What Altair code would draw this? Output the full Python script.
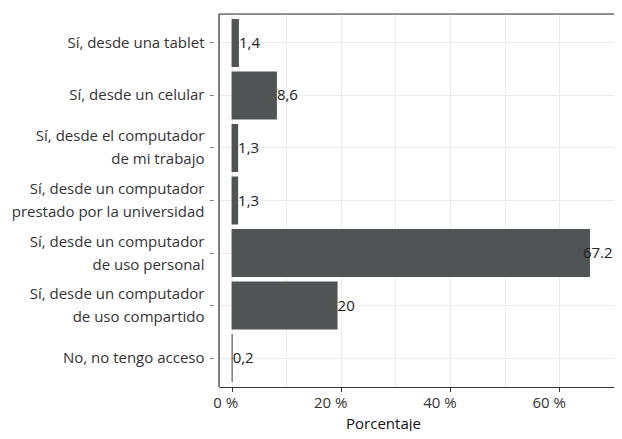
import altair as alt
import pandas as pd

# ---- data ----
categories = [
    "Sí, desde una tablet",
    "Sí, desde un celular",
    "Sí, desde el computador\nde mi trabajo",
    "Sí, desde un computador\nprestado por la universidad",
    "Sí, desde un computador\nde uso personal",
    "Sí, desde un computador\nde uso compartido",
    "No, no tengo acceso",
]
bar_values = [1.35, 8.3, 1.2, 1.2, 65.6, 19.4, 0.2]
label_texts = ["1,4", "8,6", "1,3", "1,3", "67.2", "20", "0,2"]
major_ticks = [0, 20, 40, 60]
minor_ticks = [10, 30, 50, 70]
x_domain = [-2.3, 70.0]

FONT = "Open Sans"
FS = 15
W, H = 395, 373

df = pd.DataFrame({"cat": categories, "value": bar_values, "label": label_texts})

xscale = alt.Scale(domain=x_domain, nice=False)
yscale = alt.Scale(paddingInner=0.086, paddingOuter=0.095)

x_axis = alt.Axis(
    values=sorted(major_ticks + minor_ticks),
    labelExpr="datum.value % 20 === 0 ? datum.value + ' %' : ''",
    tickOpacity=alt.ExprRef(expr="datum.value % 20 === 0 ? 1 : 0"),
    grid=True, gridColor="#ebebeb", gridWidth=1,
    tickSize=4.5, tickColor="#333333",
    domainColor="#333333", domainWidth=1.2,
    labelAlign="right", labelOffset=6, labelPadding=4,
    labelFont=FONT, labelFontSize=FS, labelColor="#333333",
    title="Porcentaje", titleFont=FONT, titleFontSize=FS, titleFontWeight="normal",
    titleColor="#111111", titleX=164, titleY=41, titleAlign="center",
    titleBaseline="alphabetic", titleAnchor="start",
)

y_axis = alt.Axis(
    title=None,
    labelExpr="split(datum.label, '\\n')",
    labelOffset=alt.ExprRef(expr="indexof(datum.label, '\\n') >= 0 ? -11.5 : 0"),
    labelFont=FONT, labelFontSize=FS, labelColor="#333333",
    labelLineHeight=23, labelPadding=5.5, labelLimit=400, labelAlign="right",
    tickSize=3.5, tickColor="#777777",
    domain=False, offset=6,
    grid=True, gridColor="#ebebeb", gridWidth=1, bandPosition=0.5,
)

base = alt.Chart(df)
yenc = alt.Y("cat:N", sort=categories, scale=yscale, axis=y_axis)

bars = base.mark_bar(color="#505455").encode(
    x=alt.X("value:Q", scale=xscale, axis=x_axis),
    y=yenc,
)

small_labels = base.transform_filter("datum.value < 50").mark_text(
    align="left", baseline="middle", font=FONT, fontSize=FS, color="#222222", dx=0
).encode(x=alt.X("value:Q", scale=xscale), y=alt.Y("cat:N", sort=categories, scale=yscale), text="label:N")

big_labels = base.transform_filter("datum.value >= 50").mark_text(
    align="left", baseline="middle", font=FONT, fontSize=FS, color="#222222", dx=-7
).encode(x=alt.X("value:Q", scale=xscale), y=alt.Y("cat:N", sort=categories, scale=yscale), text="label:N")

frame_df = pd.DataFrame({"k": [0]})
left_border = alt.Chart(frame_df).mark_rule(color="#333333", strokeWidth=1.2).encode(
    x=alt.value(0), y=alt.value(0), y2=alt.value(H)
)
top_border = alt.Chart(frame_df).mark_rule(color="#333333", strokeWidth=1.2).encode(
    x=alt.value(0), x2=alt.value(W), y=alt.value(0)
)

chart = alt.layer(bars, small_labels, big_labels, left_border, top_border).properties(
    width=W, height=H,
    autosize=alt.AutoSizeParams(type="none"),
    padding={"left": 211, "top": 6, "right": 0, "bottom": 44},
).configure_view(stroke=None).configure(background="white")

chart.save("out.html", embed_options={"renderer": "svg", "actions": False})
